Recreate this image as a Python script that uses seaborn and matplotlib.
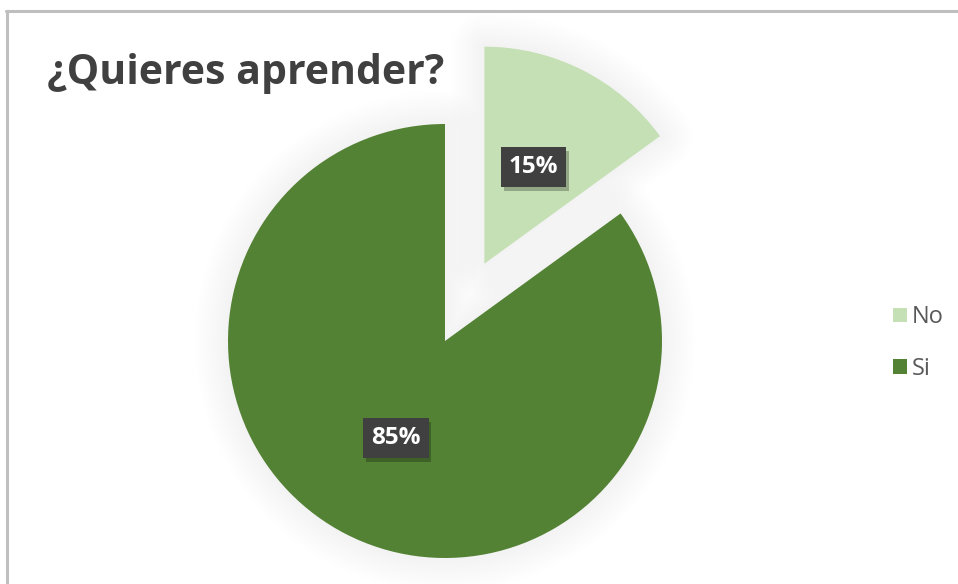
import matplotlib
matplotlib.use('Agg')
import matplotlib.pyplot as plt
import matplotlib.patheffects as pe
from matplotlib.lines import Line2D
import seaborn as sns

# Data
labels = ['No', 'Si']
values = [15, 85]
explode = [0.4, 0]
colors = sns.color_palette(['#C5E0B4', '#548235'])

sns.set_theme(style='white')
plt.rcParams['font.family'] = ['Open Sans', 'DejaVu Sans']

fig = plt.figure(figsize=(9.58, 5.84), dpi=100)
fig.patch.set_facecolor('white')
ax = fig.add_axes([0, 0, 1, 1])

# soft shadow around the pie
for lw in range(48, 0, -4):
    ax.pie(values, explode=explode, startangle=90, counterclock=False,
           wedgeprops=dict(facecolor='none', edgecolor=(0, 0, 0, 0.0052),
                           linewidth=lw, joinstyle='round'))

wedges, texts, autotexts = ax.pie(
    values, explode=explode, colors=colors, startangle=90, counterclock=False,
    autopct='%1.0f%%', pctdistance=0.5, wedgeprops=dict(linewidth=0),
    textprops=dict(color='white', fontsize=17.5, fontweight='bold'))

for t in autotexts:
    t.set_bbox(dict(boxstyle='square,pad=0.33', fc='#404040', ec='none'))
    t.get_bbox_patch().set_path_effects(
        [pe.withSimplePatchShadow(offset=(2, -3), shadow_rgbFace='black', alpha=0.25)])

# place pie: center at (445, 341) px, radius 217 px
r = 217
ax.set_xlim(-445 / r, (958 - 445) / r)
ax.set_ylim(-(584 - 341) / r, 341 / r)
ax.set_aspect('auto')
ax.axis('off')

fig.text(47 / 958, 1 - 84 / 584, '¿Quieres aprender?', fontsize=29.5,
         fontweight='bold', color='#404040', ha='left', va='baseline')

fig.legend(wedges, labels, loc='center left', bbox_to_anchor=(893 / 958, 1 - 343 / 584),
           frameon=False, fontsize=17, labelcolor='#595959',
           handlelength=0.58, handleheight=0.58, handletextpad=0.2,
           labelspacing=1.15, borderpad=0, borderaxespad=0)

# chart frame
fig.add_artist(Line2D([6 / 958, 1], [1 - 11 / 584, 1 - 11 / 584], color='#bfbfbf', lw=2.2))
fig.add_artist(Line2D([7 / 958, 7 / 958], [0, 1 - 11 / 584], color='#bfbfbf', lw=2.2))

fig.savefig('out.png', dpi=100, facecolor='white')
